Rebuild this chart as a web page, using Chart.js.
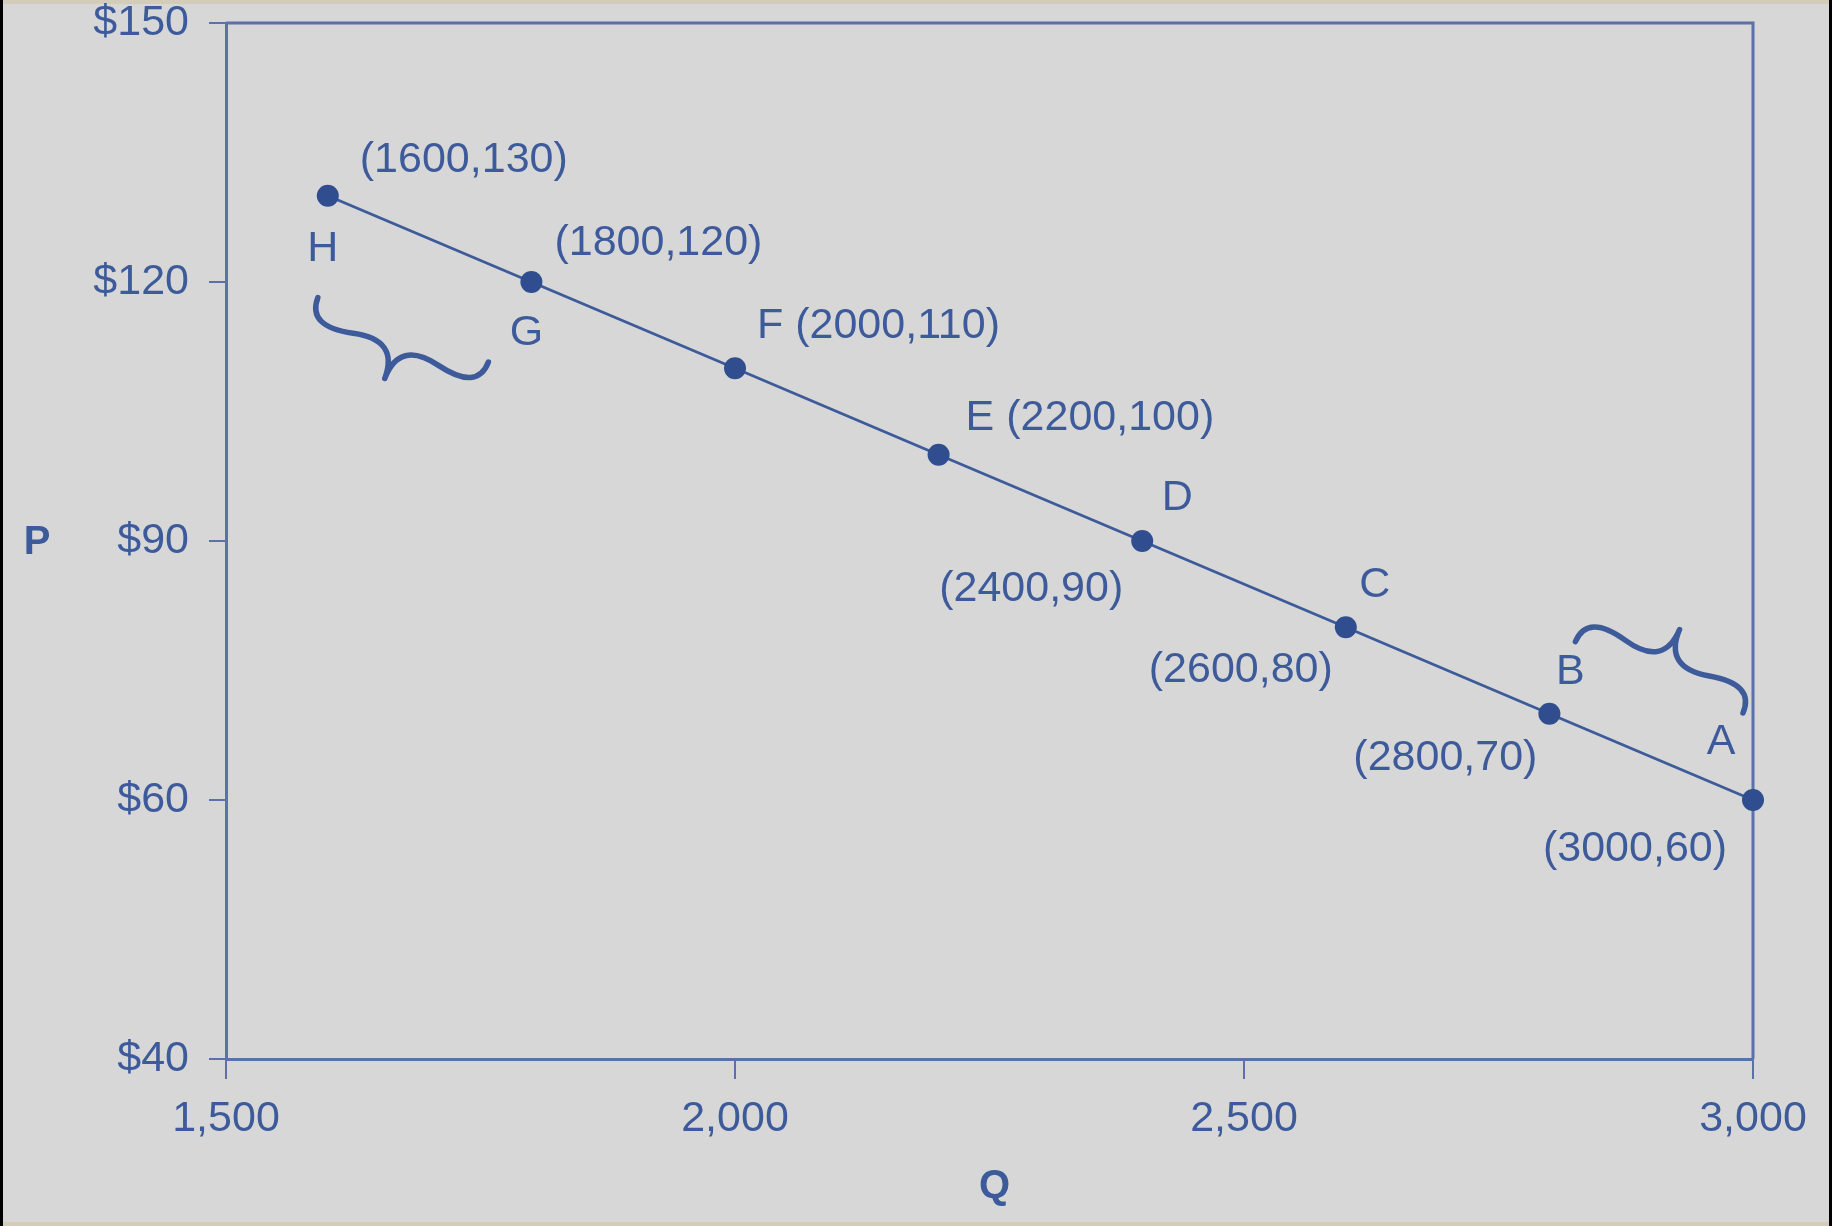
<!DOCTYPE html>
<html>
<head>
<meta charset="utf-8">
<title>Demand curve</title>
<script src="https://cdn.jsdelivr.net/npm/chart.js@4.4.1/dist/chart.umd.min.js"></script>
<style>
  html, body { margin: 0; padding: 0; background: #d7d7d7; }
  canvas { display: block; }
</style>
</head>
<body>
<canvas id="demandChart" width="1832" height="1226"></canvas>
<script>
// ---- data ----
const quantities = [1600, 1800, 2000, 2200, 2400, 2600, 2800, 3000];
const prices     = [130, 120, 110, 100, 90, 80, 70, 60];
const pointNames = ['H', 'G', 'F', 'E', 'D', 'C', 'B', 'A'];

const xTickValues = [1500, 2000, 2500, 3000];
const xTickLabels = ['1,500', '2,000', '2,500', '3,000'];
// axis is broken at the bottom: the lowest tick sits one 30-step below $60 but reads $40
const yTickValues = [30, 60, 90, 120, 150];
const yTickLabels = ['$40', '$60', '$90', '$120', '$150'];

// ---- styles ----
const INK = '#3d5a9b';
const AXIS = '#5c71a9';
const FONT = '"Liberation Sans", Arial, sans-serif';

// label offsets (px) from each dot
const labelOffsets = {
  H: { name: [-5, 53],  coord: [32, -36, 'left'] },
  G: { name: [-5, 51],  coord: [23, -39, 'left'] },
  F: { joined: [22, -42] },
  E: { joined: [27, -37] },
  D: { name: [35, -43], coord: [-111, 48, 'center'] },
  C: { name: [29, -42], coord: [-105, 43, 'center'] },
  B: { name: [21, -42], coord: [-104, 44, 'center'] },
  A: { name: [-32, -58], coord: [-118, 49, 'center'] }
};

// braces: [from point, offset], [to point, offset], depth
const braces = [
  { from: ['H', -10, 102], to: ['G', -43, 80], depth: 52 },
  { from: ['B', 26, -72],  to: ['A', -10, -87], depth: -52 }
];

function drawBrace(ctx, x1, y1, x2, y2, w, q) {
  const len = Math.hypot(x1 - x2, y1 - y2);
  const dx = (x1 - x2) / len, dy = (y1 - y2) / len;
  const qx1 = x1 + q * w * dy, qy1 = y1 - q * w * dx;
  const qx2 = (x1 - 0.25 * len * dx) + (1 - q) * w * dy;
  const qy2 = (y1 - 0.25 * len * dy) - (1 - q) * w * dx;
  const tx = (x1 - 0.5 * len * dx) + w * dy;
  const ty = (y1 - 0.5 * len * dy) - w * dx;
  const qx3 = x2 + q * w * dy, qy3 = y2 - q * w * dx;
  const qx4 = (x1 - 0.75 * len * dx) + (1 - q) * w * dy;
  const qy4 = (y1 - 0.75 * len * dy) - (1 - q) * w * dx;
  ctx.beginPath();
  ctx.moveTo(x1, y1);
  ctx.quadraticCurveTo(qx1, qy1, qx2, qy2);
  ctx.quadraticCurveTo(2 * qx2 - qx1, 2 * qy2 - qy1, tx, ty);
  ctx.moveTo(x2, y2);
  ctx.quadraticCurveTo(qx3, qy3, qx4, qy4);
  ctx.quadraticCurveTo(2 * qx4 - qx3, 2 * qy4 - qy3, tx, ty);
  ctx.stroke();
}

const backdrop = {
  id: 'backdrop',
  beforeDraw(chart) {
    const { ctx, width, height } = chart;
    ctx.save();
    ctx.fillStyle = '#d7d7d7';
    ctx.fillRect(0, 0, width, height);
    ctx.fillStyle = '#d3ccb8';
    ctx.fillRect(0, 0, width, 4);
    ctx.fillRect(0, height - 4, width, 4);
    ctx.fillStyle = '#000';
    ctx.fillRect(0, 0, 3, height);
    ctx.fillRect(width - 3, 0, 3, height);
    ctx.restore();
  },
  beforeDatasetsDraw(chart) {
    // top and right sides of the frame
    const { ctx, chartArea: a } = chart;
    ctx.save();
    ctx.strokeStyle = AXIS;
    ctx.lineWidth = 3;
    ctx.beginPath();
    ctx.moveTo(a.left, a.top);
    ctx.lineTo(a.right, a.top);
    ctx.lineTo(a.right, a.bottom);
    ctx.stroke();
    ctx.restore();
  }
};

const annotations = {
  id: 'annotations',
  afterDatasetsDraw(chart) {
    const { ctx, chartArea: a } = chart;
    const pts = chart.getDatasetMeta(0).data;
    const pos = {};
    pointNames.forEach((n, i) => { pos[n] = pts[i]; });

    ctx.save();
    ctx.fillStyle = INK;
    ctx.font = '43px ' + FONT;
    ctx.textBaseline = 'middle';

    pointNames.forEach((n, i) => {
      const p = pos[n];
      const o = labelOffsets[n];
      const coordText = '(' + quantities[i] + ',' + prices[i] + ')';
      if (o.joined) {
        ctx.textAlign = 'left';
        ctx.fillText(n + ' ' + coordText, p.x + o.joined[0], p.y + o.joined[1]);
      } else {
        ctx.textAlign = 'center';
        ctx.fillText(n, p.x + o.name[0], p.y + o.name[1]);
        ctx.textAlign = o.coord[2];
        ctx.fillText(coordText, p.x + o.coord[0], p.y + o.coord[1]);
      }
    });

    // braces
    ctx.strokeStyle = INK;
    ctx.lineWidth = 5.5;
    ctx.lineCap = 'round';
    ctx.lineJoin = 'round';
    braces.forEach(b => {
      const s = pos[b.from[0]], e = pos[b.to[0]];
      drawBrace(ctx, s.x + b.from[1], s.y + b.from[2], e.x + b.to[1], e.y + b.to[2], b.depth, 0.6);
    });

    // axis names
    ctx.font = 'bold 40px ' + FONT;
    ctx.textAlign = 'center';
    ctx.fillText('P', a.left - 189, (a.top + a.bottom) / 2 + 2);
    ctx.fillText('Q', (a.left + a.right) / 2 + 5, a.bottom + 128);
    ctx.restore();
  }
};

new Chart(document.getElementById('demandChart'), {
  type: 'scatter',
  data: {
    datasets: [{
      data: quantities.map((q, i) => ({ x: q, y: prices[i] })),
      showLine: true,
      borderColor: INK,
      borderWidth: 2.8,
      backgroundColor: INK,
      pointBackgroundColor: '#2f4d8f',
      pointBorderWidth: 0,
      pointRadius: 11,
      clip: false
    }]
  },
  options: {
    responsive: false,
    animation: false,
    events: [],
    layout: { autoPadding: false, padding: { left: 0, top: 23, right: 79, bottom: 0 } },
    plugins: { legend: { display: false }, tooltip: { enabled: false } },
    scales: {
      x: {
        type: 'linear',
        min: 1500,
        max: 3000,
        afterBuildTicks: s => { s.ticks = xTickValues.map(v => ({ value: v })); },
        afterFit: s => { s.height = 167; s.paddingLeft = 0; s.paddingRight = 0; },
        border: { display: true, color: AXIS, width: 3 },
        grid: { drawOnChartArea: false, drawTicks: true, tickLength: 20, color: AXIS, lineWidth: 2 },
        ticks: {
          color: INK,
          font: { family: FONT, size: 43 },
          padding: 14,
          maxRotation: 0,
          callback: v => xTickLabels[xTickValues.indexOf(v)]
        }
      },
      y: {
        type: 'linear',
        min: 30,
        max: 150,
        afterBuildTicks: s => { s.ticks = yTickValues.map(v => ({ value: v })); },
        afterFit: s => { s.width = 226; s.paddingTop = 0; s.paddingBottom = 0; },
        border: { display: true, color: AXIS, width: 3 },
        grid: { drawOnChartArea: false, drawTicks: true, tickLength: 17, color: AXIS, lineWidth: 2 },
        ticks: {
          color: INK,
          font: { family: FONT, size: 43 },
          padding: 20,
          callback: v => yTickLabels[yTickValues.indexOf(v)]
        }
      }
    }
  },
  plugins: [backdrop, annotations]
});
</script>
</body>
</html>
